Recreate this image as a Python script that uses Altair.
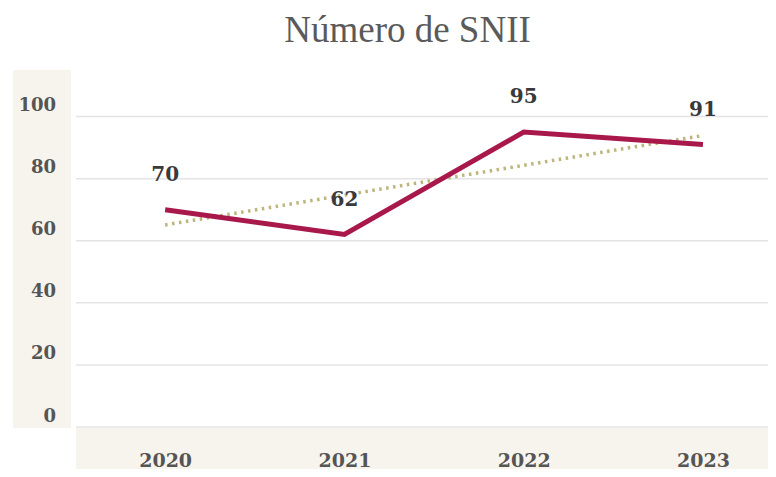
import altair as alt
import pandas as pd

years = [2020, 2021, 2022, 2023]
values = [70, 62, 95, 91]
y_ticks = [0, 20, 40, 60, 80, 100]

df = pd.DataFrame({"year": years, "value": values})
grid_df = pd.DataFrame({"tick": y_ticks})

W, H = 692, 357
SERIF = "DejaVu Serif"
TITLE_FONT = "Liberation Serif"
BEIGE = "#f7f4ee"

base = alt.Chart(df)

yband = base.mark_rect(color=BEIGE, clip=False).encode(
    x=alt.value(-62.5), x2=alt.value(-4.5), y=alt.value(0), y2=alt.value(H + 1)
)
xband = base.mark_rect(color=BEIGE, clip=False).encode(
    x=alt.value(0.5), x2=alt.value(W + 10), y=alt.value(H + 1), y2=alt.value(H + 60)
)

grid = alt.Chart(grid_df).mark_rule(color="#e4e4e6", strokeWidth=1.5).encode(
    y=alt.Y("tick:Q", scale=alt.Scale(domain=[0, 115], nice=False)),
    x=alt.value(0.5), x2=alt.value(W + 10),
)

x_enc = alt.X(
    "year:Q",
    scale=alt.Scale(domain=[2019.5, 2023.36], nice=False, zero=False),
    axis=alt.Axis(
        values=years, format="d", title=None, grid=False, domain=False, ticks=False,
        labelFont=SERIF, labelFontSize=19, labelFontWeight="bold", labelColor="#555555",
        labelPadding=24, zindex=1,
    ),
)
y_enc = alt.Y(
    "value:Q",
    scale=alt.Scale(domain=[0, 115], nice=False),
    axis=alt.Axis(
        values=y_ticks, title=None, domain=False, ticks=False, grid=False,
        labelFont=SERIF, labelFontSize=18, labelFontWeight="bold", labelColor="#555555",
        labelPadding=20, labelBaseline="alphabetic", labelOffset=-6, zindex=1,
    ),
)

line = base.mark_line(color="#a8184b", strokeWidth=5).encode(x=x_enc, y=y_enc)

trend = base.transform_regression("year", "value").mark_line(
    color="#bdb57c", strokeWidth=3.5, strokeDash=[2.5, 4.5]
).encode(x="year:Q", y="value:Q")

labels = base.mark_text(
    dy=-35, font=SERIF, fontSize=20, fontWeight="bold", color="#3a3a3a"
).encode(x="year:Q", y="value:Q", text="value:Q")

chart = alt.layer(yband, xband, grid, trend, line, labels).properties(
    width=W, height=H,
    autosize=alt.AutoSizeParams(type="none"),
    padding={"left": 67.5, "top": 62, "right": 0, "bottom": 42},
    title=alt.TitleParams(
        "Número de SNII", font=TITLE_FONT, fontSize=37, fontWeight="normal",
        color="#5a5a5a", anchor="middle", offset=20, dx=-14,
    ),
).configure_view(stroke=None)

chart.save("out.html", embed_options={"renderer": "svg", "actions": False})
